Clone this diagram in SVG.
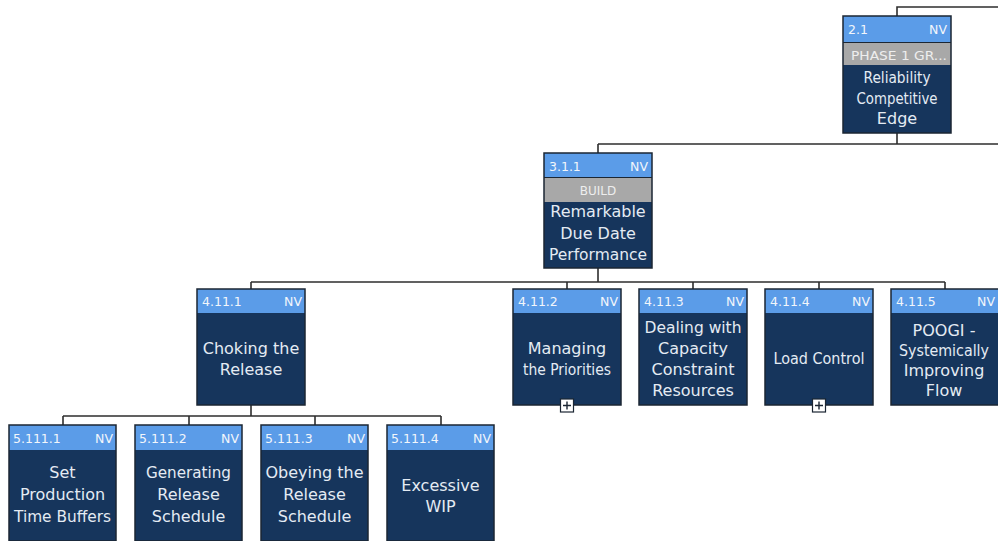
<svg xmlns="http://www.w3.org/2000/svg" width="998" height="541" viewBox="0 0 998 541">
<style>
.hd{fill:#5b9ce8}
.gy{fill:#a8a8a8}
.bd{fill:#16355c}
.fr{fill:none;stroke:#1b2633;stroke-width:1.5}
.sep{stroke:#1b2633;stroke-width:1}
.ht{font-family:"DejaVu Sans",sans-serif;font-size:12.5px;fill:#f2f6fb}
.gt{font-family:"DejaVu Sans",sans-serif;font-size:12px;fill:#eeeeee;text-anchor:middle}
.bt{font-family:"DejaVu Sans",sans-serif;font-size:16px;fill:#e4ebf3;text-anchor:middle}
.r{text-anchor:end}
.cn{fill:none;stroke:#2e2e2e;stroke-width:1.6}
.pb{fill:#ffffff;stroke:#1b2633;stroke-width:1.2}
.pl{stroke:#1b2633;stroke-width:1.4}
</style>
<rect width="998" height="541" fill="#ffffff"/>
<g id="connectors">
<path class="cn" d="M897,16V7H998"/>
<path class="cn" d="M897,133V144M598,144H998M598,144V153"/>
<path class="cn" d="M598,268V282M251,282H945M251,282V289M567,282V289M693,282V289M819,282V289M945,282V289"/>
<path class="cn" d="M251,405V416M63,416H441M63,416V425M189,416V425M315,416V425M441,416V425"/>
</g>
<g id="n2-1">
<rect class="bd" x="843" y="16" width="108" height="117"/>
<rect class="hd" x="843" y="16" width="108" height="26"/>
<rect class="gy" x="843" y="43" width="108" height="22"/>
<line class="sep" x1="843" y1="42.5" x2="951" y2="42.5"/>
<rect class="fr" x="843" y="16" width="108" height="117"/>
<text class="ht" x="848" y="34">2.1</text>
<text class="ht r" x="947" y="34">NV</text>
<text class="gt" x="899" y="60" textLength="96" lengthAdjust="spacingAndGlyphs">PHASE 1 GR...</text>
<text class="bt" x="897" y="83" textLength="67" lengthAdjust="spacingAndGlyphs">Reliability</text>
<text class="bt" x="897" y="104" textLength="81" lengthAdjust="spacingAndGlyphs">Competitive</text>
<text class="bt" x="897" y="124">Edge</text>
</g>
<g id="n3-1-1">
<rect class="bd" x="544" y="153" width="108" height="115"/>
<rect class="hd" x="544" y="153" width="108" height="24"/>
<rect class="gy" x="544" y="178" width="108" height="24"/>
<line class="sep" x1="544" y1="177.5" x2="652" y2="177.5"/>
<rect class="fr" x="544" y="153" width="108" height="115"/>
<text class="ht" x="549" y="171">3.1.1</text>
<text class="ht r" x="648" y="171">NV</text>
<text class="gt" x="598" y="195">BUILD</text>
<text class="bt" x="598" y="217">Remarkable</text>
<text class="bt" x="598" y="239">Due Date</text>
<text class="bt" x="598" y="260" textLength="98" lengthAdjust="spacingAndGlyphs">Performance</text>
</g>
<g id="n4-11-1">
<rect class="bd" x="197" y="289" width="108" height="116"/>
<rect class="hd" x="197" y="289" width="108" height="24"/>
<rect class="fr" x="197" y="289" width="108" height="116"/>
<text class="ht" x="202" y="306">4.11.1</text>
<text class="ht r" x="302" y="306">NV</text>
<text class="bt" x="251" y="354">Choking the</text>
<text class="bt" x="251" y="375">Release</text>
</g>
<g id="n4-11-2">
<rect class="bd" x="513" y="289" width="108" height="116"/>
<rect class="hd" x="513" y="289" width="108" height="24"/>
<rect class="fr" x="513" y="289" width="108" height="116"/>
<text class="ht" x="518" y="306">4.11.2</text>
<text class="ht r" x="618" y="306">NV</text>
<text class="bt" x="567" y="354">Managing</text>
<text class="bt" x="567" y="375" textLength="88" lengthAdjust="spacingAndGlyphs">the Priorities</text>
<rect class="pb" x="560.5" y="399" width="13" height="13"/>
<path class="pl" d="M563,405.5H571M567,401.5V409.5"/>
</g>
<g id="n4-11-3">
<rect class="bd" x="639" y="289" width="108" height="116"/>
<rect class="hd" x="639" y="289" width="108" height="24"/>
<rect class="fr" x="639" y="289" width="108" height="116"/>
<text class="ht" x="644" y="306">4.11.3</text>
<text class="ht r" x="744" y="306">NV</text>
<text class="bt" x="693" y="333" textLength="97" lengthAdjust="spacingAndGlyphs">Dealing with</text>
<text class="bt" x="693" y="354">Capacity</text>
<text class="bt" x="693" y="375">Constraint</text>
<text class="bt" x="693" y="396">Resources</text>
</g>
<g id="n4-11-4">
<rect class="bd" x="765" y="289" width="108" height="116"/>
<rect class="hd" x="765" y="289" width="108" height="24"/>
<rect class="fr" x="765" y="289" width="108" height="116"/>
<text class="ht" x="770" y="306">4.11.4</text>
<text class="ht r" x="870" y="306">NV</text>
<text class="bt" x="819" y="364" textLength="91" lengthAdjust="spacingAndGlyphs">Load Control</text>
<rect class="pb" x="812.5" y="399" width="13" height="13"/>
<path class="pl" d="M815,405.5H823M819,401.5V409.5"/>
</g>
<g id="n4-11-5">
<rect class="bd" x="891" y="289" width="108" height="116"/>
<rect class="hd" x="891" y="289" width="108" height="24"/>
<rect class="fr" x="891" y="289" width="108" height="116"/>
<text class="ht" x="896" y="306">4.11.5</text>
<text class="ht r" x="995" y="306">NV</text>
<text class="bt" x="944" y="336">POOGI -</text>
<text class="bt" x="944" y="356" textLength="90" lengthAdjust="spacingAndGlyphs">Systemically</text>
<text class="bt" x="944" y="376">Improving</text>
<text class="bt" x="944" y="396">Flow</text>
</g>
<g id="n5-111-1">
<rect class="bd" x="9" y="425" width="107" height="116"/>
<rect class="hd" x="9" y="425" width="107" height="25"/>
<rect class="fr" x="9" y="425" width="107" height="116"/>
<text class="ht" x="13" y="443">5.111.1</text>
<text class="ht r" x="113" y="443">NV</text>
<text class="bt" x="62.5" y="478">Set</text>
<text class="bt" x="62.5" y="500">Production</text>
<text class="bt" x="62.5" y="522" textLength="97" lengthAdjust="spacingAndGlyphs">Time Buffers</text>
</g>
<g id="n5-111-2">
<rect class="bd" x="135" y="425" width="107" height="116"/>
<rect class="hd" x="135" y="425" width="107" height="25"/>
<rect class="fr" x="135" y="425" width="107" height="116"/>
<text class="ht" x="139" y="443">5.111.2</text>
<text class="ht r" x="239" y="443">NV</text>
<text class="bt" x="188.5" y="478" textLength="85" lengthAdjust="spacingAndGlyphs">Generating</text>
<text class="bt" x="188.5" y="500">Release</text>
<text class="bt" x="188.5" y="522">Schedule</text>
</g>
<g id="n5-111-3">
<rect class="bd" x="261" y="425" width="107" height="116"/>
<rect class="hd" x="261" y="425" width="107" height="25"/>
<rect class="fr" x="261" y="425" width="107" height="116"/>
<text class="ht" x="265" y="443">5.111.3</text>
<text class="ht r" x="365" y="443">NV</text>
<text class="bt" x="314.5" y="478">Obeying the</text>
<text class="bt" x="314.5" y="500">Release</text>
<text class="bt" x="314.5" y="522">Schedule</text>
</g>
<g id="n5-111-4">
<rect class="bd" x="387" y="425" width="107" height="116"/>
<rect class="hd" x="387" y="425" width="107" height="25"/>
<rect class="fr" x="387" y="425" width="107" height="116"/>
<text class="ht" x="391" y="443">5.111.4</text>
<text class="ht r" x="491" y="443">NV</text>
<text class="bt" x="440.5" y="491">Excessive</text>
<text class="bt" x="440.5" y="512">WIP</text>
</g>
</svg>
